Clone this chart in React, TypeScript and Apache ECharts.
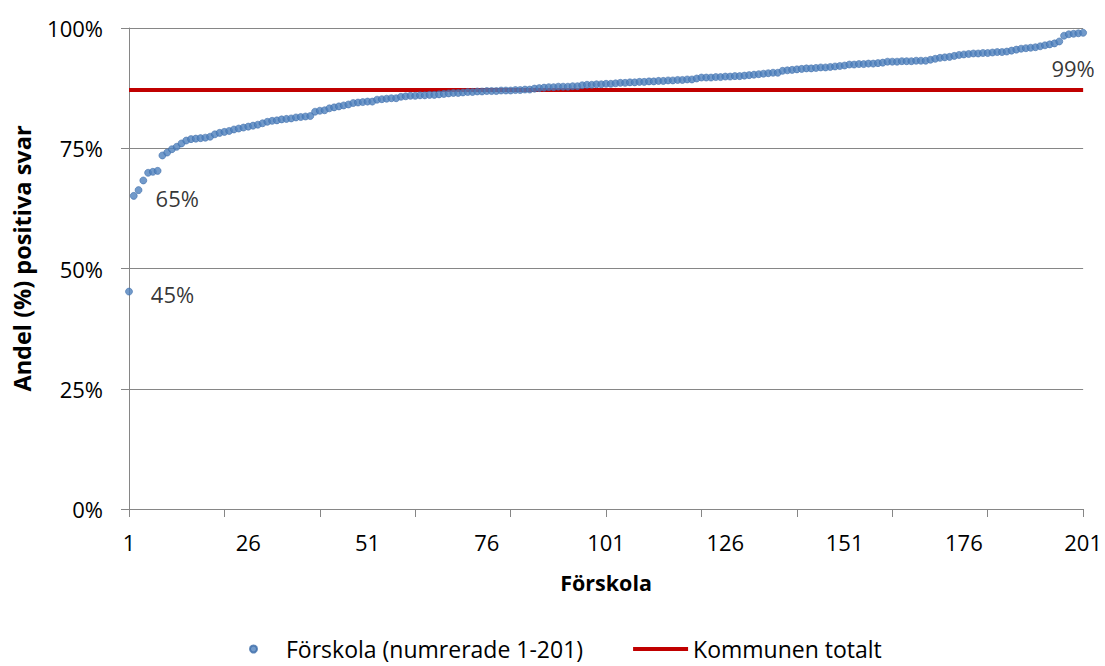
import React, { useEffect, useRef } from "react";
import * as echarts from "echarts";

// Andel (%) positiva svar per förskola, sorterade stigande (förskola 1-201)
const forskolaValues: number[] = [
  45.2, 65.1, 66.3, 68.3, 69.9, 70.1, 70.3, 73.5, 74.1, 74.8,
  75.3, 76.0, 76.6, 76.9, 77.0, 77.1, 77.2, 77.4, 77.9, 78.2,
  78.4, 78.6, 78.9, 79.1, 79.3, 79.5, 79.7, 79.9, 80.2, 80.5,
  80.7, 80.8, 81.0, 81.1, 81.2, 81.4, 81.5, 81.6, 81.7, 82.6,
  82.8, 82.9, 83.3, 83.5, 83.7, 83.9, 84.1, 84.4, 84.5, 84.6,
  84.7, 84.7, 85.1, 85.2, 85.3, 85.4, 85.4, 85.7, 85.8, 85.9,
  85.9, 86.0, 86.0, 86.1, 86.1, 86.2, 86.3, 86.4, 86.5, 86.5,
  86.6, 86.7, 86.7, 86.8, 86.8, 86.9, 86.9, 86.9, 87.0, 87.0,
  87.0, 87.1, 87.1, 87.2, 87.2, 87.4, 87.5, 87.6, 87.7, 87.7,
  87.8, 87.8, 87.8, 87.9, 87.9, 88.1, 88.2, 88.2, 88.3, 88.3,
  88.4, 88.4, 88.5, 88.6, 88.6, 88.7, 88.7, 88.8, 88.8, 88.9,
  88.9, 89.0, 89.0, 89.1, 89.1, 89.2, 89.2, 89.3, 89.3, 89.5,
  89.7, 89.7, 89.7, 89.8, 89.8, 89.9, 89.9, 90.0, 90.0, 90.1,
  90.2, 90.3, 90.4, 90.5, 90.6, 90.7, 90.7, 91.1, 91.2, 91.3,
  91.4, 91.5, 91.6, 91.6, 91.7, 91.8, 91.8, 91.9, 92.0, 92.1,
  92.2, 92.4, 92.4, 92.5, 92.5, 92.6, 92.6, 92.7, 92.8, 93.0,
  93.0, 93.0, 93.1, 93.1, 93.1, 93.2, 93.2, 93.2, 93.4, 93.6,
  93.8, 93.9, 94.0, 94.2, 94.4, 94.5, 94.6, 94.7, 94.7, 94.8,
  94.8, 94.9, 95.0, 95.0, 95.1, 95.3, 95.5, 95.7, 95.8, 95.9,
  96.0, 96.2, 96.4, 96.6, 96.8, 97.2, 98.4, 98.7, 98.8, 98.9,
  99.0,
];

const kommunenTotalt = 87.1;

// Förskola-nummer 1..201 (kategorier på x-axeln)
const categories: string[] = forskolaValues.map((_, i) => String(i + 1));

const yTicks: number[] = [0, 25, 50, 75, 100];

const seriesNames = ["Förskola (numrerade 1-201)", "Kommunen totalt"];

const labeledIndices = [0, 1, 200];

const FONT = "Open Sans";

export default function App() {
  const ref = useRef<HTMLDivElement>(null);

  useEffect(() => {
    if (!ref.current) return;
    const chart = echarts.init(ref.current, undefined, { renderer: "svg" });
    const last = forskolaValues.length - 1;

    const scatterData = forskolaValues.map((v, i) => {
      const item: any = { value: [i, v] };
      if (labeledIndices.includes(i)) {
        if (i === last) {
          item.label = {
            show: true,
            position: "bottom",
            distance: 20,
            offset: [-10, 0],
          };
        } else {
          item.label = {
            show: true,
            position: "right",
            distance: 18,
            offset: [0, 2],
          };
        }
      }
      return item;
    });

    chart.setOption({
      animation: false,
      textStyle: { fontFamily: FONT },
      grid: { left: 129, right: 19, top: 28, bottom: 157 },
      legend: {
        left: 249,
        top: 637,
        padding: 0,
        itemWidth: 55,
        itemHeight: 7,
        itemGap: 48,
        textStyle: { fontFamily: FONT, fontSize: 23, color: "#000", lineHeight: 24 },
        data: [
          { name: seriesNames[0], icon: "circle" },
          {
            name: seriesNames[1],
            itemStyle: { opacity: 0 },
            lineStyle: { width: 4, color: "#C00000" },
          },
        ],
      },
      xAxis: {
        type: "category",
        data: categories,
        boundaryGap: false,
        name: "Förskola",
        nameLocation: "middle",
        nameGap: 62,
        nameTextStyle: { fontFamily: FONT, fontSize: 21.5, fontWeight: "bold", color: "#000" },
        axisLine: { show: true, lineStyle: { color: "#868686", width: 1 } },
        axisTick: { show: true, interval: 19, length: 8, lineStyle: { color: "#868686" } },
        axisLabel: { interval: 24, margin: 22, fontFamily: FONT, fontSize: 22, color: "#000" },
        splitLine: { show: false },
      },
      yAxis: {
        type: "value",
        min: yTicks[0],
        max: yTicks[yTicks.length - 1],
        interval: 25,
        name: "Andel (%) positiva svar",
        nameLocation: "middle",
        nameGap: 95,
        nameTextStyle: {
          fontFamily: FONT,
          fontSize: 23.5,
          fontWeight: "bold",
          color: "#000",
          padding: [0, 0, 0, 20],
        },
        axisLine: { show: true, lineStyle: { color: "#868686", width: 1 } },
        axisTick: { show: true, length: 8, lineStyle: { color: "#868686" } },
        axisLabel: { formatter: "{value}%", margin: 26, fontFamily: FONT, fontSize: 22, color: "#000" },
        splitLine: { show: true, lineStyle: { color: "#868686", width: 1 } },
      },
      series: [
        {
          name: seriesNames[1],
          type: "line",
          data: [
            [0, kommunenTotalt],
            [last, kommunenTotalt],
          ],
          symbol: "none",
          lineStyle: { color: "#C00000", width: 4 },
          itemStyle: { color: "#C00000" },
          z: 2,
        },
        {
          name: seriesNames[0],
          type: "scatter",
          data: scatterData,
          symbolSize: 7,
          itemStyle: { color: "#4F81BD", borderColor: "#3A6AA8", borderWidth: 0.7 },
          label: {
            show: false,
            fontFamily: FONT,
            fontSize: 22,
            color: "#000",
            formatter: (p: any) => Math.round(p.value[1]) + "%",
          },
          z: 3,
        },
      ],
    });

    return () => chart.dispose();
  }, []);

  return (
    <div
      ref={ref}
      style={{ position: "absolute", left: 0, top: 0, width: 1105, height: 666 }}
    />
  );
}
